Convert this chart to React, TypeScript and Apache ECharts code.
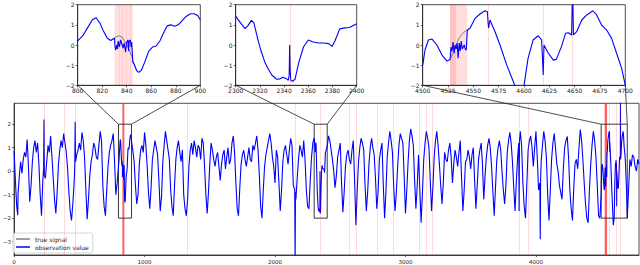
import React, { useEffect, useRef } from "react";
import * as echarts from "echarts";

// ---------- data ----------
const MAIN_STEP = 20;
// observation value read at x = 0, 20, 40, ... (null = taken from inset detail arrays)
const mainObs: (number | null)[] = [
  0.85, -1.5, -0.2, -0.1, 0.8, 1.35, -1.3, 0.4, 1.3, 1.2,
  -1.0, -0.4, -0.3, 1.1, 1.5, -0.3, -1.8, 0.3, 1.3, 1.6,
  0.8, -0.9, -2.1, -0.5, 0.7, 1.2, 1.65, 0.6, -2.05, -0.2,
  0.7, 1.0, 0.5, 1.7, -0.6, -1.9, 0.2, 1.1, 1.6, -1.0,
  null, null, null, null, null, null, 0.4, -1.4, 0.3, 1.1,
  1.65, 0.2, -1.6, 0.5, 1.3, 0.7, -1.7, 0.4, 1.7, 0.9,
  -0.8, -1.9, 0.5, 1.3, 0.4, -1.0, -1.9, 0.2, 1.2, 1.3,
  0.6, 1.0, 1.4, 0.2, -1.8, 0.3, 0.9, 0.2, 0.8, -0.4,
  0.7, 0.1, 1.0, 0.5, 1.5, -0.5, -1.9, 0.3, 0.9, 0.2,
  1.0, 0.4, 0.9, 1.5, -0.2, -2.0, 0.2, 1.0, 1.6, 0.6,
  -0.5, 0.6, -1.7, 0.4, 1.1, 0.3, 1.4, -0.6, -1.2, 0.5,
  0.9, 1.3, -0.8, -1.6, 0.6, null, null, null, null, null,
  null, 1.3, 0.5, -0.7, 0.6, 1.2, -1.75, 0.2, 0.9, 0.3,
  1.3, -2.3, 0.4, 1.4, 0.9, -1.7, 0.3, 1.4, 0.7, -1.6,
  0.5, 1.2, -2.0, 0.6, 1.7, 0.8, -1.7, 0.2, 1.6, 1.2,
  -1.8, 0.4, 1.8, 1.1, -1.6, 0.7, -2.2, 0.5, 1.7, 1.0,
  -1.7, 0.6, 1.7, 0.3, -1.4, 0.8, 0.4, 1.2, -0.5, 0.9,
  0.2, 1.3, -1.7, 0.4, 0.9, 0.1, 1.0, -1.6, 0.5, 1.2,
  -1.2, 0.6, 1.4, 0.2, -1.9, 0.5, 1.3, 0.0, -1.4, 0.8,
  1.65, 0.4, -1.7, 0.6, 1.7, -0.5, -2.0, 0.9, 1.5, 0.2,
  1.7, -0.8, 0.4, 1.7, 0.6, -2.1, 0.5, 1.6, 0.3, -0.6,
  -1.2, 1.0, 1.48, -0.8, -2.1, 0.35, 0.1, 1.77, 0.5, -1.4,
  -2.2, 0.3, 1.7, 0.6, -1.9, null, null, null, null, null,
  null, null, null, null, null, null, 0.5, 0.7, 0.2, 0.5,
];
// observation value read at x = 10, 30, 50, ... (in-between readings)
const mainObsMid: (number | null)[] = [
  -0.4, -1.0, 0.4, 0.5, 0.6, 0.2, -0.6, 1.0, 0.8, 0.3,
  -1.9, null, 0.4, 0.8, 0.6, -1.2, -0.9, 0.9, 1.0, 1.2,
  0.1, -1.7, -1.4, null, 0.9, 0.9, 1.3, -0.8, -1.2, 0.4,
  1.2, 0.6, 1.1, 1.3, -1.5, -0.8, 0.8, 1.3, 0.4, -0.5,
  null, null, null, null, null, 0.9, -0.6, -1.0, 0.9, 0.8,
  1.1, -0.9, -0.7, 0.9, 1.0, -0.4, -1.1, 1.1, 1.3, 0.5,
  -1.5, -0.6, 1.0, 0.8, 0.9, -1.6, -1.2, 0.9, 0.7, 1.0,
  1.1, 0.5, 1.2, -1.0, -0.9, 1.2, 0.5, 0.6, 0.2, 0.3,
  0.9, 0.6, 0.3, 1.2, 0.8, -1.6, -0.7, 0.7, 0.5, 0.6,
  0.5, 1.1, 1.2, 0.9, -1.5, -0.8, 0.7, 1.3, 1.2, 0.2,
  0.9, -0.5, -0.8, 0.9, 0.7, 0.9, 1.1, null, -0.3, 1.1,
  0.6, 0.5, -1.5, -0.4, 1.2, null, null, null, null, null,
  1.5, 0.9, 0.0, -0.2, 0.9, -0.5, -0.9, 0.7, 0.5, 0.9,
  -0.4, -0.8, 1.0, 1.2, -0.6, -0.9, 1.0, 1.0, -0.3, -0.9,
  0.9, -0.6, -0.9, 1.2, 1.3, -0.7, -0.9, 1.1, 1.4, -0.2,
  -0.8, 1.3, 1.5, -0.4, -0.6, -0.8, -0.9, 1.2, 1.4, -0.4,
  -0.7, 1.3, 1.1, -0.6, -0.5, 0.5, 0.9, 0.6, 0.3, 0.6,
  0.8, -0.3, -0.8, 0.5, 0.6, 0.7, -0.4, -0.6, 0.9, 0.3,
  -0.2, 1.1, 1.0, -0.9, -0.7, 1.0, 0.9, -0.8, -0.6, 1.3,
  1.2, -0.7, -0.4, null, 1.1, -1.5, -0.6, 1.3, 1.0, 1.0,
  0.6, null, 1.1, 1.3, -1.0, -0.8, 1.2, 1.0, 0.0, -0.9,
  0.1, 1.3, 0.6, -1.6, -0.7, 0.5, 1.0, 1.3, -0.5, -2.0,
  -0.8, 1.1, 1.3, -0.6, -2.0, null, null, null, null, null,
  null, null, null, null, null, -0.8, 0.2, 0.6, 0.0, null,
];
const mainSpikes: [number, number][] = [
  [28, -1.87], [226, 0.1], [229, 2.2], [232, -0.2],
  [465, 0.2], [468, 2.1], [471, 0.4], [2151, -0.8], [2154, -3.9], [2157, -0.9],
  [3868, 1.2], [3871, -1.7], [3874, 1.3], [4030, -0.5], [4033, -2.9], [4036, -0.3],
  [4790, 0.3],
];

const inset1Obs: [number, number][] = [
  [800, 0.2], [804, 0.45], [808, 0.85], [812, 1.25], [815, 1.35], [818, 1.1], [821, 0.7],
  [824, 0.35], [827, 0.22], [830, 0.35], [830.5, -0.1], [831, -0.25], [832, 0.0], [832.5, -0.2],
  [833, 0.2], [834, -0.1], [835, 0.25], [836, 0.05], [837, -0.15], [838, 0.1], [839, -0.35],
  [840, 0.15], [841, 0.25], [841.5, -0.3], [842, 0.2], [843, 0.25], [843.5, -0.1], [844, 0.15],
  [845, -0.85], [846, -0.95], [848, -1.25], [849, -1.33], [850, -1.35], [852, -1.25], [855, -0.8],
  [858, -0.3], [861, -0.1], [864, -0.05], [867, 0.2], [870, 0.6], [873, 0.95], [876, 1.0],
  [879, 0.93], [882, 1.0], [885, 1.2], [888, 1.4], [892, 1.55], [895, 1.55], [898, 1.45], [900, 1.25],
];
const inset1True: [number, number][] = [
  [830, 0.35], [832, 0.43], [834, 0.46], [836, 0.4], [838, 0.22], [840, 0.02], [842, -0.25],
  [844, -0.55], [845.5, -0.9], [846, -0.95], [848, -1.25],
];
const inset2Obs: [number, number][] = [
  [2300, 1.42], [2304, 1.1], [2307.7, 0.81], [2310, 0.95], [2313, 1.22], [2315, 1.1], [2318.5, 0.23],
  [2321, -0.3], [2324, -0.84], [2327, -1.2], [2330, -1.5], [2334, -1.7], [2336.6, -1.68], [2339, -1.6],
  [2342, -1.68], [2343.5, -1.75], [2344.2, -1.5], [2344.6, 0.0], [2345, -1.2], [2345.5, -1.75],
  [2347, -1.8], [2349, -1.7], [2352, -0.9], [2356, -0.1], [2360, 0.25], [2364, 0.15], [2368.6, 0.1],
  [2372.7, 0.1], [2376.8, 0.07], [2379.6, -0.07], [2382, 0.2], [2386, 0.8], [2390, 0.85], [2394, 0.87],
  [2400, 1.05],
];
const inset3Obs: [number, number][] = [
  [4500, -1.0], [4502.3, -0.25], [4505.6, 0.25], [4509, 0.3], [4514, 0.0], [4519, -0.5], [4524, -0.8],
  [4527, -0.72], [4528, -0.1], [4529, -0.3], [4530, 0.15], [4531, -0.4], [4532, 0.0], [4533, -0.2],
  [4534, 0.1], [4535, -0.65], [4536, 0.1], [4537, -0.3], [4538, 0.2], [4539, -0.2], [4540, -0.1],
  [4541, 0.0], [4542, -0.2], [4543, -0.25], [4544, 0.7], [4545, 0.78], [4546.7, 0.83], [4551.6, 1.32],
  [4556.6, 1.54], [4561.5, 1.7], [4563.8, 1.65], [4565, 0.83], [4566.4, 1.24], [4571.4, 0.66],
  [4576.3, 0.0], [4583, -1.0], [4589.5, -1.82], [4592.8, -2.3], [4597.7, -2.3], [4600, -2.0],
  [4604, -0.66], [4609, 0.25], [4614, 0.46], [4617.4, 0.25], [4619, -1.49], [4619.7, 0.0],
  [4624, -0.41], [4629, -0.75], [4632, -0.7], [4637, -0.08], [4641, 0.58], [4643.8, 0.61],
  [4647, 0.5], [4648, 3.0], [4648.8, 0.5], [4652, 0.66], [4657, 1.24], [4662, 1.49], [4668, 1.7],
  [4671.7, 1.49], [4676.6, 0.99], [4681.6, 0.74], [4686.5, 0.33], [4691.4, -0.41], [4696.4, -1.16],
  [4700, -2.0],
];
const inset3True: [number, number][] = [
  [4527, -0.72], [4530, -0.4], [4533, 0.0], [4536, 0.35], [4539, 0.55], [4542, 0.68], [4545, 0.78],
];

const anomalyLines = [229, 383, 468, 1326, 2154, 2345, 2566, 2621, 2785, 2910, 3106, 3162, 3205, 3870, 3940, 4565, 4619, 4648];
const anomalySpans: [number, number][] = [[830, 845], [4527, 4545]];
const insetRanges: [number, number][] = [[800, 900], [2300, 2400], [4500, 4700]];
const insetIntervals = [20, 20, 25];
const mainXTicks = [0, 1000, 2000, 3000, 4000];
const mainYTicks = [-3, -2, -1, 0, 1, 2];
const mainXRange: [number, number] = [0, 4790];
const mainYRange: [number, number] = [-3.57, 2.89];

const FONT = "DejaVu Sans";
const BLUE = "#0000ff";
const GRAY = "#808080";
const FRAME = "#222";

const fmt = (v: number) => String(v).replace("-", "\u2212");

export default function App() {
  const ref = useRef<HTMLDivElement>(null);
  useEffect(() => {
    if (!ref.current) return;
    const chart = echarts.init(ref.current, undefined, { renderer: "svg" });

    const mainPts: [number, number][] = [];
    mainObs.forEach((v, i) => {
      if (v !== null) mainPts.push([i * MAIN_STEP, v]);
    });
    mainObsMid.forEach((v, i) => {
      if (v !== null) mainPts.push([i * MAIN_STEP + MAIN_STEP / 2, v]);
    });
    mainPts.push(...mainSpikes, ...inset1Obs, ...inset2Obs, ...inset3Obs);
    mainPts.sort((a, b) => a[0] - b[0]);

    const grids = [
      { left: 12.3, top: 103.3, width: 626.7, height: 152.4 },
      { left: 77.7, top: 4.7, width: 122.6, height: 80.6 },
      { left: 235.7, top: 4.7, width: 121, height: 80.6 },
      { left: 422.7, top: 4.7, width: 202.6, height: 80.6 },
    ].map((g) => ({ ...g, show: true, borderColor: FRAME, borderWidth: 0.8, backgroundColor: "transparent" }));

    const axisCommon = {
      type: "value" as const,
      splitLine: { show: false },
      axisLine: { show: true, onZero: false, lineStyle: { color: FRAME, width: 0.8 } },
      axisTick: { show: true, length: 2, lineStyle: { color: FRAME, width: 0.7 } },
    };

    const xAxis: any[] = [
      {
        ...axisCommon,
        gridIndex: 0,
        min: mainXRange[0],
        max: mainXRange[1],
        axisTick: { ...axisCommon.axisTick, customValues: mainXTicks },
        axisLabel: { customValues: mainXTicks, fontSize: 5.5, fontFamily: FONT, color: FRAME, margin: 4, formatter: fmt },
      },
      ...insetRanges.map(([a, b], k) => ({
        ...axisCommon,
        gridIndex: k + 1,
        min: a,
        max: b,
        interval: insetIntervals[k],
        axisLabel: { fontSize: 6, fontFamily: FONT, color: FRAME, margin: 2, formatter: fmt, showMinLabel: true, showMaxLabel: true },
      })),
    ];
    const yAxis: any[] = [
      {
        ...axisCommon,
        gridIndex: 0,
        min: mainYRange[0],
        max: mainYRange[1],
        axisTick: { ...axisCommon.axisTick, customValues: mainYTicks },
        axisLabel: { customValues: mainYTicks, fontSize: 5.5, fontFamily: FONT, color: FRAME, margin: 3, formatter: fmt },
      },
      ...insetRanges.map((_, k) => ({
        ...axisCommon,
        gridIndex: k + 1,
        min: -2,
        max: 2,
        interval: 1,
        axisLabel: { fontSize: 6, fontFamily: FONT, color: FRAME, margin: 3, formatter: fmt },
      })),
    ];

    const noLabel = { show: false };
    const lightLine = (x: number, w = 1, a = 0.15) => ({
      xAxis: x,
      lineStyle: { color: `rgba(255,0,0,${a})`, width: w, type: "solid" },
    });

    const series: any[] = [
      {
        type: "line",
        xAxisIndex: 0,
        yAxisIndex: 0,
        data: [],
        silent: true,
        z: 1,
        markLine: {
          silent: true,
          symbol: ["none", "none"],
          label: noLabel,
          data: anomalyLines.map((x) => lightLine(x, 1, 0.14)),
        },
        markArea: {
          silent: true,
          label: noLabel,
          itemStyle: { color: "rgba(255,40,40,0.75)" },
          data: anomalySpans.map(([a, b]) => [{ xAxis: a }, { xAxis: b }]),
        },
      },
      ...[inset1True, inset3True].map((d) => ({
        name: "true signal",
        type: "line",
        xAxisIndex: 0,
        yAxisIndex: 0,
        data: d,
        symbol: "none",
        lineStyle: { color: GRAY, width: 1 },
        itemStyle: { color: GRAY },
        z: 2,
      })),
      {
        name: "observation value",
        type: "line",
        xAxisIndex: 0,
        yAxisIndex: 0,
        data: mainPts,
        symbol: "none",
        lineStyle: { color: BLUE, width: 1.1 },
        itemStyle: { color: BLUE },
        z: 3,
      },
      {
        type: "line",
        xAxisIndex: 0,
        yAxisIndex: 0,
        data: [],
        silent: true,
        z: 5,
        markArea: {
          silent: true,
          label: noLabel,
          itemStyle: { color: "rgba(0,0,0,0)", borderColor: FRAME, borderWidth: 0.9 },
          data: insetRanges.map(([a, b]) => [
            { xAxis: a, yAxis: -2 },
            { xAxis: b, yAxis: 2 },
          ]),
        },
      },
      // inset 1
      {
        type: "line",
        xAxisIndex: 1,
        yAxisIndex: 1,
        data: [],
        silent: true,
        z: 1,
        markArea: {
          silent: true,
          label: noLabel,
          itemStyle: { color: "rgba(255,0,0,0.12)" },
          data: [[{ xAxis: 830 }, { xAxis: 845 }]],
        },
        markLine: {
          silent: true,
          symbol: ["none", "none"],
          label: noLabel,
          data: [833.5, 836.5, 840, 843].map((x) => lightLine(x, 1.2, 0.08)),
        },
      },
      {
        name: "true signal",
        type: "line",
        xAxisIndex: 1,
        yAxisIndex: 1,
        data: inset1True,
        symbol: "none",
        lineStyle: { color: GRAY, width: 1 },
        itemStyle: { color: GRAY },
        z: 2,
      },
      {
        name: "observation value",
        type: "line",
        xAxisIndex: 1,
        yAxisIndex: 1,
        data: inset1Obs,
        symbol: "none",
        lineStyle: { color: BLUE, width: 1.1 },
        itemStyle: { color: BLUE },
        z: 3,
      },
      // inset 2
      {
        type: "line",
        xAxisIndex: 2,
        yAxisIndex: 2,
        data: [],
        silent: true,
        z: 1,
        markLine: {
          silent: true,
          symbol: ["none", "none"],
          label: noLabel,
          data: [lightLine(2345, 1.2, 0.15)],
        },
      },
      {
        name: "observation value",
        type: "line",
        xAxisIndex: 2,
        yAxisIndex: 2,
        data: inset2Obs,
        symbol: "none",
        lineStyle: { color: BLUE, width: 1.1 },
        itemStyle: { color: BLUE },
        z: 3,
      },
      // inset 3
      {
        type: "line",
        xAxisIndex: 3,
        yAxisIndex: 3,
        data: [],
        silent: true,
        z: 1,
        markArea: {
          silent: true,
          label: noLabel,
          itemStyle: { color: "rgba(255,0,0,0.13)" },
          data: [
            [{ xAxis: 4527 }, { xAxis: 4544 }],
            [{ xAxis: 4527 }, { xAxis: 4533 }],
          ],
        },
        markLine: {
          silent: true,
          symbol: ["none", "none"],
          label: noLabel,
          data: [4565, 4619, 4648].map((x) => lightLine(x, 1.2, 0.15)),
        },
      },
      {
        name: "true signal",
        type: "line",
        xAxisIndex: 3,
        yAxisIndex: 3,
        data: inset3True,
        symbol: "none",
        lineStyle: { color: GRAY, width: 1 },
        itemStyle: { color: GRAY },
        z: 2,
      },
      {
        name: "observation value",
        type: "line",
        xAxisIndex: 3,
        yAxisIndex: 3,
        data: inset3Obs,
        symbol: "none",
        lineStyle: { color: BLUE, width: 1.1 },
        itemStyle: { color: BLUE },
        z: 3,
      },
    ];

    chart.setOption({
      animation: false,
      grid: grids,
      xAxis,
      yAxis,
      legend: {
        left: 13,
        top: 233,
        orient: "vertical",
        icon: "rect",
        data: ["true signal", "observation value"],
        itemWidth: 14,
        itemHeight: 1.5,
        itemGap: 2,
        padding: [3, 4, 3, 3],
        textStyle: { fontSize: 6, fontFamily: FONT, color: FRAME },
        borderColor: "#ccc",
        borderWidth: 0.8,
        borderRadius: 2,
        backgroundColor: "rgba(255,255,255,0.85)",
      },
      series,
    });

    const lines: any[] = [];
    insetRanges.forEach(([a, b], k) => {
      [a, b].forEach((x) => {
        const p = chart.convertToPixel({ gridIndex: k + 1 } as any, [x, -2]) as number[];
        const q = chart.convertToPixel({ gridIndex: 0 } as any, [x, 2]) as number[];
        if (p && q) {
          lines.push({
            type: "line",
            silent: true,
            z: 10,
            shape: { x1: p[0], y1: p[1], x2: q[0], y2: q[1] },
            style: { stroke: FRAME, lineWidth: 0.8 },
          });
        }
      });
    });
    chart.setOption({ graphic: lines });

    return () => chart.dispose();
  }, []);

  return (
    <div
      ref={ref}
      style={{ position: "fixed", left: 0, top: 0, width: 640, height: 265, background: "#fff" }}
    />
  );
}
